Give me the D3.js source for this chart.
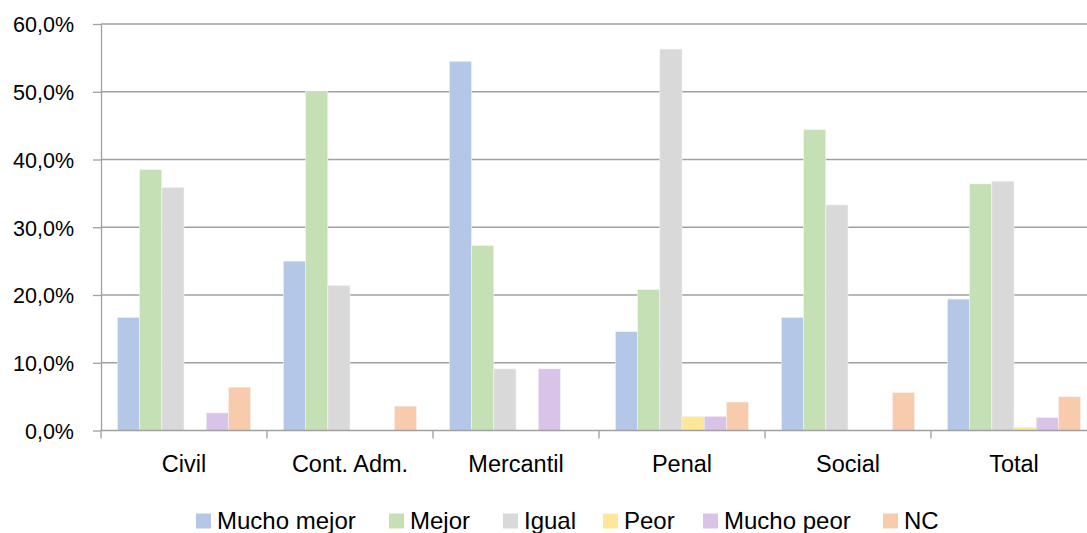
<!DOCTYPE html>
<html><head><meta charset="utf-8">
<script src="https://cdn.jsdelivr.net/npm/d3@7"></script>
<style>body{margin:0;background:#fff}svg{display:block}text{font-family:"Liberation Sans",Arial,sans-serif;fill:#000}</style>
</head><body><svg id="c" width="1087" height="533"></svg>
<script>
const categories = ["Civil","Cont. Adm.","Mercantil","Penal","Social","Total"];
const seriesNames = ["Mucho mejor","Mejor","Igual","Peor","Mucho peor","NC"];
const muchoMejor = [16.7, 25.0, 54.5, 14.6, 16.7, 19.4];
const mejor      = [38.5, 50.0, 27.3, 20.8, 44.4, 36.4];
const igual      = [35.9, 21.4,  9.1, 56.3, 33.3, 36.8];
const peor       = [ 0.0,  0.0,  0.0,  2.1,  0.0,  0.5];
const muchoPeor  = [ 2.6,  0.0,  9.1,  2.1,  0.0,  1.9];
const nc         = [ 6.4,  3.6,  0.0,  4.2,  5.6,  5.0];
const yTicks = [0,10,20,30,40,50,60];
const colors = ["#B4C7E7","#C5E0B4","#D9D9D9","#FFE699","#D9C3E9","#F8CBAD"];
const seriesValues = [muchoMejor, mejor, igual, peor, muchoPeor, nc];

const svg = d3.select("#c");
const pL = 101, pR = 1097, pT = 24, pB = 430.5;
const axisCol = "#a0a0a0";
const x = d3.scaleBand().domain(categories).range([pL, pR]).paddingInner(0).paddingOuter(0);
const xs = d3.scaleBand().domain(seriesNames).range([0, x.bandwidth()]).paddingOuter(0.74).paddingInner(0);
const y = d3.scaleLinear().domain([0,60]).range([pB, pT]);

// gridlines
svg.append("g").selectAll("line").data(yTicks.filter(d=>d>0)).join("line")
  .attr("x1", pL).attr("x2", pR).attr("y1", d=>y(d)).attr("y2", d=>y(d))
  .attr("stroke", axisCol).attr("stroke-width", 1.3);

// bars
const g = svg.append("g");
seriesNames.forEach((s, si) => {
  g.append("g").selectAll("rect").data(categories).join("rect")
    .attr("x", (c) => x(c) + xs(s))
    .attr("width", xs.bandwidth())
    .attr("y", (c, i) => y(seriesValues[si][i]))
    .attr("height", (c, i) => pB - y(seriesValues[si][i]))
    .attr("fill", colors[si])
    .attr("stroke", "#f4f4f4").attr("stroke-width", 0.6);
});

// y axis
const yAxis = d3.axisLeft(y).tickValues(yTicks).tickSize(8).tickSizeOuter(0)
  .tickFormat(d => d.toFixed(1).replace(".", ",") + "%").tickPadding(19);
const ya = svg.append("g").attr("transform", `translate(${pL},0)`).call(yAxis);
ya.select(".domain").attr("stroke", axisCol).attr("stroke-width", 1.3);
ya.selectAll(".tick line").attr("stroke", axisCol).attr("stroke-width", 1.3);
ya.selectAll(".tick text").style("font-size", "21.5px").attr("dy", "0.36em");

// x axis
const xa = svg.append("g").attr("transform", `translate(0,${pB})`);
xa.append("line").attr("x1", pL).attr("x2", pR).attr("stroke", axisCol).attr("stroke-width", 1.3);
xa.selectAll("line.t").data(d3.range(categories.length + 1)).join("line").attr("class","t")
  .attr("x1", i => pL + i * x.bandwidth()).attr("x2", i => pL + i * x.bandwidth())
  .attr("y1", 0).attr("y2", 8).attr("stroke", axisCol).attr("stroke-width", 1.3);
xa.selectAll("text").data(categories).join("text")
  .attr("x", c => x(c) + x.bandwidth()/2).attr("y", 41.5).attr("text-anchor","middle")
  .style("font-size","23.5px").text(c => c);

// legend
const legX = [196, 389, 503, 603, 703, 883];
const lg = svg.append("g");
seriesNames.forEach((s, i) => {
  lg.append("rect").attr("x", legX[i]).attr("y", 513.5).attr("width", 15).attr("height", 15).attr("fill", colors[i]);
  lg.append("text").attr("x", legX[i] + 21).attr("y", 528.5).style("font-size","24px").text(s);
});
</script></body></html>
